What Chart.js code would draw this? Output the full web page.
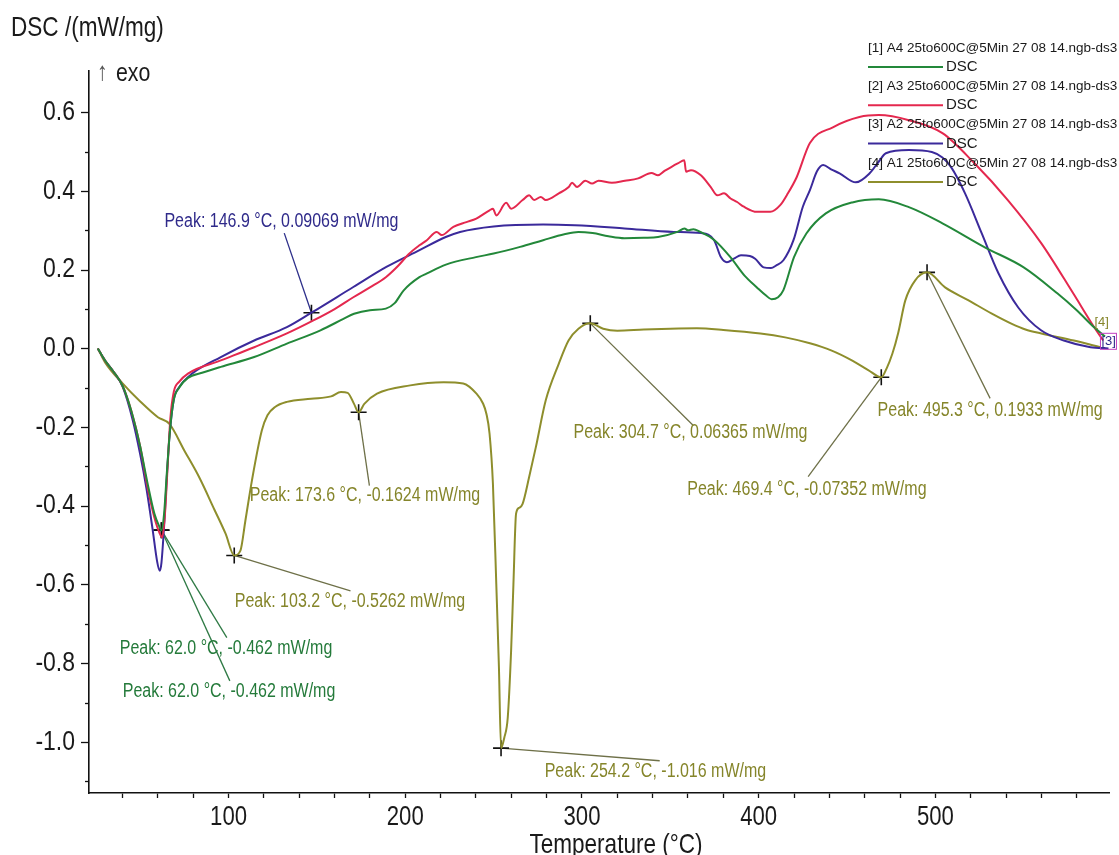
<!DOCTYPE html>
<html><head><meta charset="utf-8">
<script src="https://cdn.jsdelivr.net/npm/chart.js@4.4.1/dist/chart.umd.min.js"></script>
<style>html,body{margin:0;padding:0;background:#fff;overflow:hidden}canvas{display:block}</style>
</head><body>
<canvas id="c" width="1119" height="855"></canvas>
<script>
// ---------- data (temperature °C, DSC mW/mg) ----------
const A4_T = [26,30,35,40,45,50,54,58,60.5,62,63.5,65,67,69,72,77,85,95.6,114.5,133,152,165,171,180,189,194,199,208,212,223,240,250,265,278,290,298,306,315,324,335,343,354,358,360,363,367,375,384,392,399,404,407.3,411,414,420,427,438,453,468,485,504,528,550,569,580,590,596];
const A4_V = [0,-0.03,-0.06,-0.095,-0.16,-0.25,-0.34,-0.42,-0.45,-0.462,-0.42,-0.32,-0.2,-0.13,-0.1,-0.075,-0.062,-0.047,-0.022,0.012,0.046,0.075,0.088,0.097,0.101,0.115,0.147,0.181,0.19,0.213,0.232,0.241,0.258,0.275,0.29,0.296,0.293,0.285,0.28,0.281,0.283,0.296,0.305,0.3,0.303,0.296,0.275,0.232,0.185,0.155,0.135,0.125,0.13,0.148,0.232,0.292,0.343,0.371,0.379,0.359,0.318,0.257,0.206,0.14,0.097,0.053,0.03];

const A3_T = [26,30,35,40,45,50,54,58,61,62.5,64,65.5,67,69,72,77,96,114.5,133,148,160,170.6,180,189,196,202,208,212.2,217.8,220.6,227.2,234.6,240.2,247.7,249.6,251.5,257.1,259.9,266.4,270.1,272.9,276.7,279.5,286.9,292.5,294.4,297.2,301.9,305.7,309.4,316.9,324.3,331.8,339.3,343,346.7,350.5,354.2,357.9,358.9,361.7,367.3,372.9,376.6,380.4,384.1,387.8,391.6,399,406.6,412.2,416,421.5,429,442,457,468,485,504,522,541,560,578,590,595];
const A3_V = [0,-0.03,-0.06,-0.095,-0.16,-0.25,-0.35,-0.43,-0.47,-0.48,-0.42,-0.3,-0.18,-0.11,-0.085,-0.064,-0.03,0.003,0.038,0.071,0.1,0.13,0.155,0.181,0.21,0.24,0.262,0.275,0.296,0.288,0.309,0.321,0.33,0.351,0.355,0.338,0.37,0.355,0.377,0.389,0.377,0.385,0.377,0.394,0.41,0.421,0.41,0.426,0.419,0.426,0.421,0.426,0.432,0.446,0.44,0.451,0.461,0.47,0.478,0.449,0.453,0.44,0.41,0.389,0.394,0.381,0.372,0.36,0.347,0.347,0.364,0.39,0.435,0.522,0.562,0.588,0.593,0.58,0.547,0.471,0.377,0.267,0.14,0.053,0.02];

const A2_T = [26,30,35,40.2,45.8,50,53.4,57,59.5,61,62,63.7,65,66.5,69,72,79.4,95.6,114.5,133,146.9,170.6,189.3,207.8,222.9,231,250,278,296,324,352,367.5,374.8,378.6,382,386,390,395,398,402.8,407,410,414,419.7,425,429,433,436.5,441,445.8,455,462.8,468,472,485,498,504,509,516.8,526.2,535.7,546.9,559.8,572.7,587.8,598];
const A2_V = [0,-0.03,-0.06,-0.099,-0.183,-0.27,-0.353,-0.46,-0.54,-0.565,-0.545,-0.437,-0.33,-0.226,-0.13,-0.099,-0.064,-0.022,0.02,0.054,0.0907,0.156,0.207,0.249,0.283,0.296,0.31,0.315,0.313,0.305,0.296,0.293,0.275,0.232,0.219,0.228,0.237,0.235,0.228,0.206,0.204,0.211,0.224,0.275,0.36,0.402,0.45,0.466,0.455,0.445,0.422,0.445,0.475,0.496,0.504,0.499,0.485,0.46,0.394,0.293,0.191,0.104,0.046,0.02,0.003,0];

const A1_T = [26,30,40,50,60,66.5,75,83.3,92,98.3,103.2,106.7,109.5,113.2,118.8,122,126.3,133,146.7,158,163.6,167.4,171,173.6,176.8,184,202.8,221.7,232.8,240.3,244,245.9,247.7,249.6,251.5,253,254.2,256,258,259.9,261.2,262.7,264.5,266.4,270.1,273.9,279.5,286.8,292.4,298,304.7,312,320,335,350,365,380,401,415,429,441,453,462,469.4,472.5,475.7,479,483,488.6,495.3,505.5,518.8,531.7,543,551,560,578.4,593.5];
const A1_V = [0,-0.035,-0.089,-0.135,-0.175,-0.192,-0.26,-0.327,-0.41,-0.471,-0.5262,-0.514,-0.438,-0.336,-0.209,-0.17,-0.149,-0.136,-0.128,-0.122,-0.111,-0.113,-0.141,-0.1624,-0.141,-0.115,-0.094,-0.086,-0.089,-0.115,-0.14,-0.166,-0.217,-0.344,-0.598,-0.81,-1.016,-0.99,-0.938,-0.768,-0.6,-0.42,-0.405,-0.395,-0.327,-0.251,-0.132,-0.04,0.02,0.05,0.0637,0.05,0.045,0.048,0.05,0.051,0.047,0.038,0.028,0.013,-0.005,-0.031,-0.055,-0.0735,-0.05,-0.013,0.04,0.122,0.173,0.1933,0.155,0.122,0.089,0.063,0.048,0.038,0.02,0.003];

const SERIES_NAMES = ['[1] A4 25to600C@5Min 27 08 14.ngb-ds3','[2] A3 25to600C@5Min 27 08 14.ngb-ds3','[3] A2 25to600C@5Min 27 08 14.ngb-ds3','[4] A1 25to600C@5Min 27 08 14.ngb-ds3'];
const SERIES_SHORT = ['DSC','DSC','DSC','DSC'];

// peak annotations
const PEAK_SERIES = [2,0,0,3,3,3,3,3,3];
const PEAK_T = [146.9,62.0,62.0,103.2,173.6,254.2,304.7,469.4,495.3];
const PEAK_V = [0.09069,-0.462,-0.462,-0.5262,-0.1624,-1.016,0.06365,-0.07352,0.1933];
const PEAK_TEXT = ['Peak: 146.9 °C, 0.09069 mW/mg','Peak: 62.0 °C, -0.462 mW/mg','Peak: 62.0 °C, -0.462 mW/mg','Peak: 103.2 °C, -0.5262 mW/mg','Peak: 173.6 °C, -0.1624 mW/mg','Peak: 254.2 °C, -1.016 mW/mg','Peak: 304.7 °C, 0.06365 mW/mg','Peak: 469.4 °C, -0.07352 mW/mg','Peak: 495.3 °C, 0.1933 mW/mg'];
const LABEL_T = [63.7,38.4,40.1,103.5,112,278.9,295.2,359.6,467.3];
const LABEL_V = [0.321,-0.763,-0.873,-0.644,-0.374,-1.076,-0.214,-0.359,-0.158];
const LEAD_T = [131.5,99,100.7,169,179.7,344,363,428,531];
const LEAD_V = [0.293,-0.735,-0.845,-0.616,-0.349,-1.048,-0.196,-0.326,-0.127];

const X_TICKS = [40,60,80,100,120,140,160,180,200,220,240,260,280,300,320,340,360,380,400,420,440,460,480,500,520,540,560,580];
const Y_TICKS = [-1.1,-1.0,-0.9,-0.8,-0.7,-0.6,-0.5,-0.4,-0.3,-0.2,-0.1,0.0,0.1,0.2,0.3,0.4,0.5,0.6];
const X_LABELED = [100,200,300,400,500];

// ---------- styles ----------
const COLORS = ['#23883a','#e4284e','#3b2a9b','#8e8e2c'];
const TEXT_COLORS = ['#247a3a','#d8284a','#2f2a8a','#85852a'];
const LEAD_COLORS = ['#2f7a45','#c03050','#2d2f8a','#6e7048'];
const SANS = "'Liberation Sans',Arial,sans-serif";
const NARROW_X = 0.82;   // horizontal squeeze to mimic a narrow face

const pts = (T,V)=>T.map((t,i)=>({x:t,y:V[i]}));
const seriesT=[A4_T,A3_T,A2_T,A1_T], seriesV=[A4_V,A3_V,A2_V,A1_V];

const datasets = [0,1,2,3].map(i=>({
  type:'line', label:SERIES_NAMES[i], data:pts(seriesT[i],seriesV[i]),
  borderColor:COLORS[i], borderWidth:2, pointRadius:0, fill:false,
  cubicInterpolationMode:'monotone'
}));
datasets.push({
  type:'scatter', label:'peaks', data:pts(PEAK_T,PEAK_V),
  pointStyle:'cross', pointRadius:8, borderColor:'#111', borderWidth:1.6, backgroundColor:'#111'
});

const isMajorY = v => Math.abs(Math.round(v*10))%2===0;

function narrowText(ctx, text, x, y){
  ctx.save(); ctx.translate(x,y); ctx.scale(NARROW_X,1); ctx.fillText(text,0,0); ctx.restore();
}
// draw the axis' own tick labels with the same horizontal squeeze
function condenseScale(s){
  if (s._condensed) return; s._condensed = true;
  const orig = s.drawLabels.bind(s);
  s.drawLabels = function(area){
    const ctx = this.ctx, ft = ctx.fillText;
    ctx.fillText = function(t,x,y){ this.save(); this.translate(x,y); this.scale(NARROW_X,1); ft.call(this,t,0,0); this.restore(); };
    try { orig(area); } finally { ctx.fillText = ft; }
  };
}

const decor = {
  id:'decor',
  beforeDatasetsDraw(chart){
    const ctx=chart.ctx, xs=chart.scales.x, ys=chart.scales.y;
    ctx.save();
    ctx.lineWidth=1.3;
    PEAK_T.forEach((t,i)=>{
      ctx.strokeStyle=LEAD_COLORS[PEAK_SERIES[i]];
      ctx.beginPath();
      ctx.moveTo(xs.getPixelForValue(t), ys.getPixelForValue(PEAK_V[i]));
      ctx.lineTo(xs.getPixelForValue(LEAD_T[i]), ys.getPixelForValue(LEAD_V[i]));
      ctx.stroke();
    });
    ctx.restore();
  },
  afterDraw(chart){
    const ctx=chart.ctx, xs=chart.scales.x, ys=chart.scales.y, a=chart.chartArea;
    ctx.save();
    // y ticks (major/minor)
    ctx.strokeStyle='#111'; ctx.lineWidth=1.3;
    Y_TICKS.forEach(v=>{
      const p=Math.round(ys.getPixelForValue(v))+0.5;
      ctx.beginPath(); ctx.moveTo(a.left-(isMajorY(v)?8:4),p); ctx.lineTo(a.left,p); ctx.stroke();
    });
    // peak labels
    ctx.font="19.5px "+SANS; ctx.textBaseline='middle'; ctx.textAlign='left';
    PEAK_T.forEach((t,i)=>{
      ctx.fillStyle=TEXT_COLORS[PEAK_SERIES[i]];
      narrowText(ctx, PEAK_TEXT[i], xs.getPixelForValue(LABEL_T[i]), ys.getPixelForValue(LABEL_V[i]));
    });
    // axis titles
    ctx.fillStyle='#1a1a1a';
    ctx.font="27.5px "+SANS;
    narrowText(ctx,'DSC /(mW/mg)', 11, 28);
    ctx.textAlign='center';
    narrowText(ctx,'Temperature (°C)', 616, 845);
    ctx.textAlign='left';
    ctx.font="26px "+SANS;
    ctx.fillStyle='#555';
    narrowText(ctx,'↑', 97, 73);
    ctx.fillStyle='#1a1a1a';
    narrowText(ctx,'exo', 116, 74);
    // legend
    SERIES_NAMES.forEach((n,i)=>{
      const y0=48+38.3*i;
      ctx.fillStyle='#1a1a1a';
      ctx.font="13.5px "+SANS;
      ctx.fillText(n, 868, y0);
      ctx.strokeStyle=COLORS[i]; ctx.lineWidth=2;
      ctx.beginPath(); ctx.moveTo(868,y0+19); ctx.lineTo(943,y0+19); ctx.stroke();
      ctx.font="15px "+SANS;
      ctx.fillText(SERIES_SHORT[i], 946, y0+19);
    });
    // end-of-curve tags
    ctx.font="13px "+SANS;
    ctx.fillStyle=TEXT_COLORS[3];
    ctx.fillText('[4]', xs.getPixelForValue(590), ys.getPixelForValue(0.065));
    ctx.fillStyle=TEXT_COLORS[2];
    const tx=xs.getPixelForValue(594), ty=ys.getPixelForValue(0.018);
    ctx.fillText('[3]', tx, ty);
    ctx.strokeStyle='#c040c0'; ctx.lineWidth=1;
    ctx.strokeRect(tx-1, ty-8, 16, 16);
    ctx.restore();
  }
};

new Chart(document.getElementById('c'), {
  data:{datasets},
  options:{
    responsive:false, animation:false,
    layout:{padding:{top:71,left:0,right:0,bottom:0}},
    plugins:{legend:{display:false}, tooltip:{enabled:false}, title:{display:false}},
    scales:{
      x:{
        type:'linear', min:21, max:598.5,
        afterBuildTicks:s=>{s.ticks=X_TICKS.map(v=>({value:v}));},
        afterFit:s=>{s.height=62; condenseScale(s);},
        border:{display:true,color:'#111',width:1.6},
        grid:{drawOnChartArea:false, drawTicks:true, tickLength:5, tickColor:'#111', tickWidth:1.3},
        ticks:{autoSkip:false, maxRotation:0, padding:3, color:'#1a1a1a',
          font:{family:SANS,size:27},
          callback:v=>X_LABELED.includes(v)?String(v):''}
      },
      y:{
        type:'linear', min:-1.13, max:0.705,
        afterBuildTicks:s=>{s.ticks=Y_TICKS.map(v=>({value:v}));},
        afterFit:s=>{s.width=89; condenseScale(s);},
        border:{display:true,color:'#111',width:1.6},
        grid:{drawOnChartArea:false, drawTicks:false},
        ticks:{autoSkip:false, padding:14, color:'#1a1a1a',
          font:{family:SANS,size:28},
          callback:v=>isMajorY(v)?v.toFixed(1):''}
      }
    }
  },
  plugins:[decor]
});
</script>
</body></html>
